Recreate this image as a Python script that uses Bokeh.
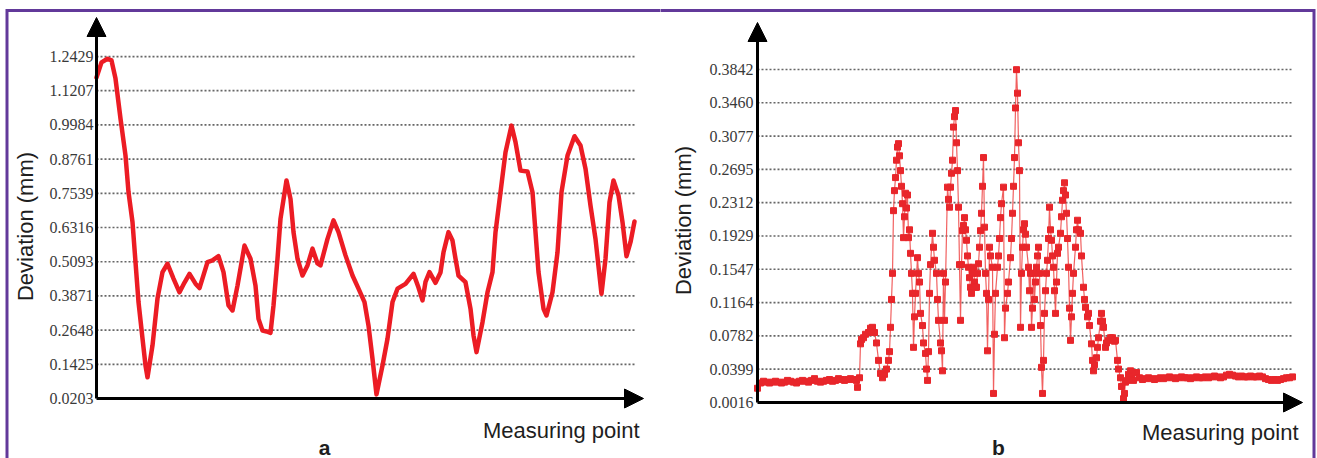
import math
from bokeh.plotting import figure
from bokeh.models import Range1d, Arrow, NormalHead, Label, Row, ColumnDataSource
from bokeh.core.properties import value
from bokeh.embed import file_html
from bokeh.resources import INLINE

# ---------------- data ----------------
a_ticks = [0.0203, 0.1425, 0.2648, 0.3871, 0.5093, 0.6316, 0.7539, 0.8761, 0.9984, 1.1207, 1.2429]
a_x = [0, 5, 11, 15, 19, 24, 29, 32, 36, 39, 42, 46, 49, 51, 56, 61, 66, 71, 77, 83,
       88, 93, 99, 103, 111, 116, 122, 127, 132, 136, 141, 148, 154, 159, 162, 166, 170, 174, 177, 181,
       184, 190, 194, 197, 201, 206, 211, 216, 221, 224, 231, 237, 242, 249, 256, 262, 268, 272, 276, 280,
       286, 291, 296, 301, 309, 317, 322, 326, 329, 333, 339, 344, 347, 352, 356, 359, 362, 369, 374, 377,
       380, 386, 391, 396, 399, 404, 409, 415, 419, 424, 431, 436, 439, 442, 447, 450, 456, 461, 465, 471,
       478, 484, 489, 494, 499, 505, 509, 513, 517, 522, 526, 530, 534, 538]
a_y = [1.168, 1.222, 1.235, 1.229, 1.164, 1.021, 0.889, 0.758, 0.651, 0.508, 0.365, 0.235, 0.138, 0.096, 0.210, 0.378, 0.472, 0.502, 0.449, 0.400,
       0.435, 0.466, 0.431, 0.415, 0.508, 0.514, 0.529, 0.472, 0.353, 0.335, 0.424, 0.567, 0.520, 0.424, 0.305, 0.263, 0.260, 0.255, 0.353, 0.520,
       0.663, 0.800, 0.734, 0.615, 0.520, 0.460, 0.496, 0.556, 0.503, 0.496, 0.591, 0.657, 0.615, 0.532, 0.460, 0.413, 0.365, 0.281, 0.162, 0.035,
       0.138, 0.234, 0.365, 0.413, 0.430, 0.466, 0.417, 0.371, 0.437, 0.472, 0.434, 0.471, 0.543, 0.615, 0.585, 0.520, 0.460, 0.436, 0.341, 0.246,
       0.186, 0.293, 0.400, 0.472, 0.615, 0.758, 0.901, 0.996, 0.937, 0.835, 0.832, 0.758, 0.615, 0.472, 0.341, 0.317, 0.400, 0.543, 0.758, 0.889,
       0.958, 0.925, 0.842, 0.710, 0.591, 0.395, 0.520, 0.722, 0.800, 0.746, 0.651, 0.529, 0.579, 0.653]

b_ticks = [0.0016, 0.0399, 0.0782, 0.1164, 0.1547, 0.1929, 0.2312, 0.2695, 0.3077, 0.3460, 0.3842]
b_start_y = [0.018, 0.024, 0.026, 0.025, 0.024, 0.025, 0.026, 0.025, 0.024, 0.025,
             0.027, 0.026, 0.025, 0.024, 0.026, 0.027, 0.026, 0.025, 0.027, 0.029,
             0.026, 0.025, 0.026, 0.027, 0.028, 0.026, 0.027, 0.029, 0.028, 0.027,
             0.028, 0.029, 0.028, 0.027]
b_mid_x = [100, 102, 103, 104, 106, 108, 111, 113, 115, 117, 119, 121, 123, 125, 127, 129, 131, 132, 133, 134,
           135, 136, 137, 138, 139, 140, 141, 142, 143, 144, 145, 146, 147, 148, 149, 150, 151, 152, 153, 154,
           155, 156, 157, 158, 160, 161, 162, 163, 165, 166, 168, 169, 170, 171, 172, 173, 175, 176, 177, 179,
           180, 181, 183, 184, 185, 186, 187, 188, 190, 191, 192, 193, 194, 195, 196, 197, 198, 199, 200, 201,
           202, 203, 204, 205, 206, 207, 208, 209, 210, 211, 212, 213, 214, 215, 216, 217, 218, 219, 220, 221,
           222, 223, 224, 225, 226, 227, 228, 229, 230, 231, 232, 233, 235, 236, 237, 238, 240, 241, 242, 243,
           244, 246, 247, 248, 250, 251, 253, 254, 255, 256, 257, 258, 259, 260, 261, 262, 263, 264, 265, 266,
           267, 268, 269, 271, 272, 273, 274, 275, 276, 277, 278, 279, 280, 281, 282, 283, 284, 285, 286, 287,
           288, 289, 290, 291, 292, 293, 294, 295, 296, 297, 298, 299, 300, 301, 303, 304, 305, 306, 307, 308,
           309, 310, 311, 312, 313, 314, 315, 316, 318, 319, 320, 321, 323, 324, 326, 327, 328, 330, 331, 332,
           334, 335, 336, 337, 339, 340, 341, 343, 344, 345, 346, 348, 349, 351, 353, 355, 357, 358, 360, 361,
           363, 364, 366, 367, 368, 370, 371, 373, 374, 376]
b_mid_y = [0.019, 0.030, 0.069, 0.074, 0.076, 0.080, 0.082, 0.087, 0.088, 0.082, 0.070, 0.050, 0.035, 0.030, 0.034, 0.040, 0.050, 0.060, 0.088, 0.120,
           0.150, 0.222, 0.245, 0.260, 0.280, 0.295, 0.299, 0.285, 0.268, 0.250, 0.230, 0.191, 0.215, 0.242, 0.225, 0.240, 0.191, 0.200, 0.173, 0.150,
           0.127, 0.065, 0.100, 0.127, 0.168, 0.150, 0.140, 0.104, 0.090, 0.070, 0.058, 0.040, 0.027, 0.060, 0.127, 0.160, 0.196, 0.180, 0.165, 0.150,
           0.120, 0.096, 0.070, 0.061, 0.038, 0.150, 0.096, 0.140, 0.249, 0.235, 0.226, 0.249, 0.265, 0.280, 0.318, 0.330, 0.337, 0.300, 0.268, 0.226,
           0.160, 0.096, 0.160, 0.199, 0.205, 0.214, 0.200, 0.188, 0.170, 0.157, 0.145, 0.134, 0.127, 0.150, 0.157, 0.140, 0.134, 0.134, 0.150, 0.161,
           0.180, 0.199, 0.219, 0.250, 0.283, 0.203, 0.150, 0.127, 0.061, 0.120, 0.180, 0.170, 0.157, 0.012, 0.080, 0.127, 0.157, 0.170, 0.190, 0.214,
           0.230, 0.249, 0.076, 0.110, 0.127, 0.140, 0.168, 0.190, 0.219, 0.250, 0.283, 0.340, 0.384, 0.357, 0.300, 0.268, 0.088, 0.150, 0.180, 0.200,
           0.207, 0.195, 0.180, 0.157, 0.130, 0.150, 0.088, 0.110, 0.150, 0.120, 0.140, 0.157, 0.170, 0.180, 0.150, 0.090, 0.042, 0.012, 0.050, 0.104,
           0.130, 0.150, 0.165, 0.190, 0.226, 0.200, 0.188, 0.170, 0.157, 0.130, 0.104, 0.140, 0.173, 0.180, 0.196, 0.215, 0.234, 0.245, 0.254, 0.240,
           0.219, 0.190, 0.157, 0.110, 0.073, 0.100, 0.127, 0.150, 0.180, 0.200, 0.211, 0.200, 0.196, 0.170, 0.134, 0.120, 0.111, 0.100, 0.104, 0.090,
           0.069, 0.050, 0.038, 0.045, 0.053, 0.065, 0.076, 0.095, 0.104, 0.095, 0.088, 0.065, 0.070, 0.073, 0.076, 0.076, 0.072, 0.073, 0.050, 0.040,
           0.030, 0.020, 0.006, 0.012, 0.025, 0.027, 0.034, 0.038, 0.032, 0.027]
b_tail_y = [0.036, 0.030, 0.028, 0.029, 0.030, 0.029, 0.028, 0.029, 0.030, 0.029,
            0.030, 0.031, 0.030, 0.029, 0.030, 0.031, 0.030, 0.030, 0.029, 0.030,
            0.031, 0.030, 0.030, 0.031, 0.030, 0.031, 0.032, 0.031, 0.030, 0.031,
            0.033, 0.034, 0.033, 0.032, 0.031, 0.032, 0.031, 0.031, 0.032, 0.031,
            0.031, 0.032, 0.031, 0.029, 0.028, 0.027, 0.028, 0.027, 0.028, 0.029,
            0.030, 0.030, 0.031]

x_label = "Measuring point"
y_label = "Deviation (mm)"

# ---------------- styling ----------------
RED = "#ec1c24"
GRID = "#666666"
TXT = "#1e1e1e"
PURPLE = "#62399a"
H = 458


def make_panel(ticks, scale, axis_px, axis_py, left_px, right_px, grid_end, label_dx):
    """One panel whose frame covers the whole canvas; 1 x-unit = 1 px."""
    y0 = ticks[0]
    yr = Range1d(y0 - (H - axis_py) / scale, y0 + axis_py / scale)
    xr = Range1d(left_px - axis_px, right_px - axis_px)
    p = figure(width=right_px - left_px, height=H, output_backend="svg", toolbar_location=None,
               x_range=xr, y_range=yr, x_axis_location=None, y_axis_location=None,
               min_border=0, outline_line_color=None,
               background_fill_color="white", border_fill_color="white")
    p.xgrid.visible = False
    p.ygrid.visible = False
    n = len(ticks) - 1
    # dotted grid lines from the axis to the end of the data
    p.segment(x0=[0] * n, x1=[grid_end] * n, y0=ticks[1:], y1=ticks[1:],
              line_color=GRID, line_width=1.7, line_dash="2 2")
    # tick labels
    p.text(x=[label_dx] * len(ticks), y=ticks, text=["%.4f" % t for t in ticks],
           text_align="right", text_baseline="alphabetic", text_font=value("Liberation Serif"),
           text_font_size="16px", text_color="#3a3a3a")
    return p


def add_arrows(p, y0, y_top, x_end):
    for (xs, ys, xe, ye) in [(0, y0, 0, y_top), (0, y0, x_end, y0)]:
        p.add_layout(Arrow(x_start=xs, y_start=ys, x_end=xe, y_end=ye, line_width=3, line_color="black",
                           end=NormalHead(size=19, fill_color="black", line_color="black")))


def add_texts(p, y0, scale, ylab_x, ylab_py_off, xlab_x, xlab_py_off, tag, tag_x, tag_py_off):
    p.add_layout(Label(x=ylab_x, y=y0 + ylab_py_off / scale, text=y_label, angle=math.pi / 2,
                       text_align="center", text_baseline="middle", text_font="Liberation Sans",
                       text_font_size="22px", text_color=TXT))
    p.add_layout(Label(x=xlab_x, y=y0 - xlab_py_off / scale, text=x_label, text_align="right",
                       text_baseline="alphabetic", text_font="Liberation Sans",
                       text_font_size="22px", text_color=TXT))
    p.add_layout(Label(x=tag_x, y=y0 - tag_py_off / scale, text=tag, text_align="center",
                       text_baseline="alphabetic", text_font="Liberation Sans", text_font_style="bold",
                       text_font_size="21px", text_color=TXT))


# ---- panel a ----  (page px: y-axis at x=96, x-axis at y=398)
a_scale = 279.7
a_y0 = a_ticks[0]
pa = make_panel(a_ticks, a_scale, 96, 398, 0, 660, 539, -3)
pa.line(a_x, a_y, line_color=RED, line_width=4.5, line_join="round", line_cap="round")
add_arrows(pa, a_y0, a_y0 + 381 / a_scale, 547)
add_texts(pa, a_y0, a_scale, -71, 172, 543, 32, "a", 228, 49)
# purple frame (top + left)
pa.line([6.5 - 96, 6.5 - 96, 700], [a_y0 - 200 / a_scale, a_y0 + (398 - 10) / a_scale, a_y0 + (398 - 10) / a_scale],
        line_color=PURPLE, line_width=3, line_join="miter")

# ---- panel b ----  (page px: y-axis at x=757, x-axis at y=402)
b_scale = 870.4
b_y0 = b_ticks[0]
pb = make_panel(b_ticks, b_scale, 757, 402, 660, 1317, 535, -4)
b_x = list(range(0, 3 * len(b_start_y), 3)) + b_mid_x + list(range(379, 379 + 3 * len(b_tail_y), 3))
b_y = b_start_y + b_mid_y + b_tail_y
src = ColumnDataSource(dict(x=b_x, y=b_y))
pb.line("x", "y", source=src, line_color="#ee4444", line_width=1.2, line_alpha=0.85)
pb.scatter("x", "y", source=src, marker="square", size=6, fill_color="#e8262b", line_color="#e8262b")
add_arrows(pb, b_y0, b_y0 + 380 / b_scale, 545)
add_texts(pb, b_y0, b_scale, -74, 182, 541, 30, "b", 241, 45)
# purple frame (top + right)
pb.line([-200, 1313.5 - 757, 1313.5 - 757], [b_y0 + (402 - 10) / b_scale, b_y0 + (402 - 10) / b_scale, b_y0 - 200 / b_scale],
        line_color=PURPLE, line_width=3, line_join="miter")

layout = Row(children=[pa, pb], spacing=0)

open("out.html", "w").write(file_html(layout, INLINE))
